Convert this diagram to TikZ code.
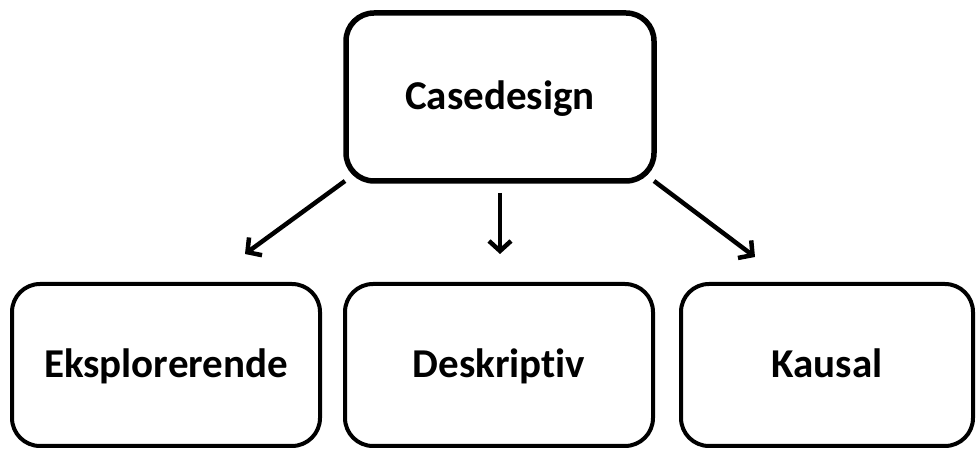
\documentclass[tikz,border=0pt]{standalone}
\usepackage{fontspec}
\setmainfont[Ligatures=NoCommon]{Carlito}
\usetikzlibrary{arrows.meta}
\begin{document}
\begin{tikzpicture}[x=1pt,y=1pt,
  box/.style={draw=black, rounded corners=28pt, line width=4pt, inner sep=0pt,
    text height=26pt, text depth=0pt,
    font=\bfseries\fontsize{41}{46}\selectfont},
  conn/.style={line width=4.5pt, -{Straight Barb[length=10pt,width=22pt,line width=4.5pt]}}]
\useasboundingbox (0,0) rectangle (978,450);
\node[box, line width=5.5pt, minimum width=308pt, minimum height=168pt] (top) at (500,353) {Casedesign};
\node[box, minimum width=308pt, minimum height=162pt] (eks) at (166,85) {Eksplorerende};
\node[box, minimum width=308pt, minimum height=162pt] (des) at (499,85) {Deskriptiv};
\node[box, minimum width=292pt, minimum height=162pt] (kau) at (827,85) {Kausal};
\coordinate (s1) at (345,269);
\coordinate (s2) at (500,257);
\coordinate (s3) at (654,269);
\coordinate (e1) at (245,196);
\coordinate (e2) at (500,196);
\coordinate (e3) at (755,193);
\draw[conn] (s1) -- (e1);
\draw[conn] (s2) -- (e2);
\draw[conn] (s3) -- (e3);
\end{tikzpicture}
\end{document}
